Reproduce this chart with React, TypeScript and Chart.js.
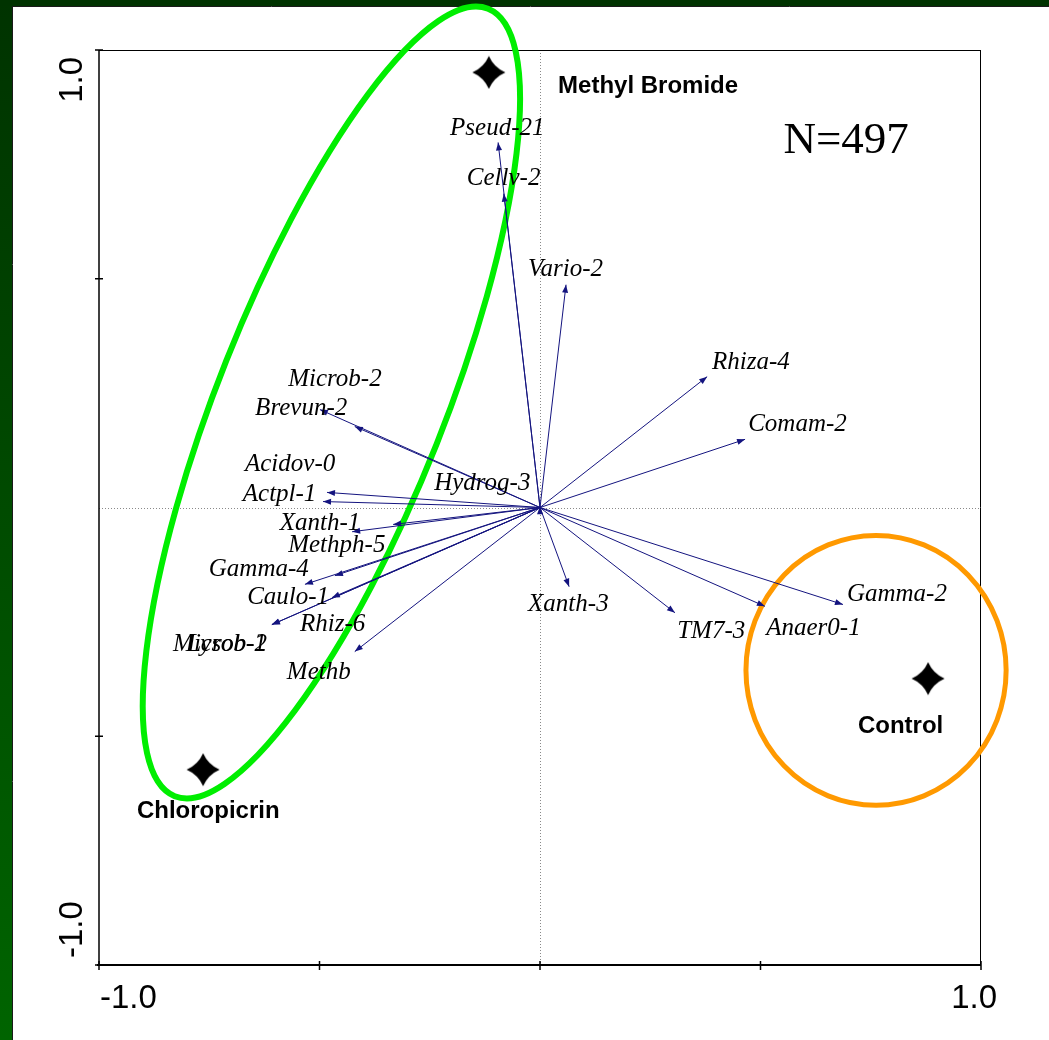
import React, { useEffect, useRef } from 'react';
import { Chart, registerables } from 'chart.js';

Chart.register(...registerables);

// ---- Species vectors (biplot arrows) ----
const speciesNames = [
  'Pseud-21', 'Cellv-2', 'Vario-2', 'Rhiza-4', 'Comam-2', 'Gamma-2', 'Anaer0-1', 'TM7-3',
  'Xanth-3', 'Brevun-2', 'Microb-2', 'Acidov-0', 'Actpl-1', 'Hydrog-3', 'Xanth-1', 'Methph-5',
  'Gamma-4', 'Caulo-1', 'Rhiz-6', 'Microb-1', 'Lysob-2', 'Methb',
];
const vectorX = [
  -0.095, -0.082, 0.059, 0.379, 0.465, 0.687, 0.510, 0.306,
  0.066, -0.499, -0.420, -0.483, -0.492, 0.0, -0.426, -0.333,
  -0.533, -0.465, -0.472, -0.608, -0.608, -0.420,
];
const vectorY = [
  0.798, 0.686, 0.487, 0.286, 0.149, -0.212, -0.216, -0.230,
  -0.173, 0.214, 0.177, 0.033, 0.013, 0.003, -0.053, -0.037,
  -0.168, -0.149, -0.197, -0.256, -0.256, -0.315,
];
// label anchors (left edge, vertical middle)
const labelX = [
  -0.204, -0.166, -0.027, 0.390, 0.472, 0.696, 0.513, 0.311,
  -0.027, -0.646, -0.571, -0.669, -0.674, -0.240, -0.590, -0.571,
  -0.751, -0.664, -0.544, -0.832, -0.800, -0.574,
];
const labelY = [
  0.833, 0.724, 0.525, 0.321, 0.186, -0.186, -0.260, -0.267,
  -0.208, 0.221, 0.284, 0.098, 0.033, 0.057, -0.031, -0.079,
  -0.131, -0.192, -0.251, -0.295, -0.295, -0.356,
];

// ---- Treatments (star markers) ----
const treatmentNames = ['Methyl Bromide', 'Chloropicrin', 'Control'];
const treatmentX = [-0.116, -0.764, 0.880];
const treatmentY = [0.951, -0.573, -0.374];
const treatmentLabelX = [0.041, -0.914, 0.721];
const treatmentLabelY = [0.925, -0.660, -0.474];

// ---- Axis ticks ----
const tickValues = [-1, -0.5, 0, 0.5, 1];
const tickLabelMin = '-1.0';
const tickLabelMax = '1.0';
const sampleSizeText = 'N=497';

// ---- Group outlines (data coordinates) ----
const greenCenter = [-0.473, 0.2295];
const greenSemiAxes = [0.2565, 0.9608]; // minor, major (in x-axis units)
const greenTiltDeg = 21.7;
const orangeCenter = [0.762, -0.356];
const orangeRadius = 0.295;

const NAVY = '#14147f';

function makeStar(): HTMLCanvasElement {
  const c = document.createElement('canvas');
  c.width = 34;
  c.height = 34;
  const g = c.getContext('2d')!;
  const m = 17;
  const R = 16.5;
  const k = 5;
  g.fillStyle = '#000';
  g.beginPath();
  g.moveTo(m, m - R);
  g.quadraticCurveTo(m + k, m - k, m + R, m);
  g.quadraticCurveTo(m + k, m + k, m, m + R);
  g.quadraticCurveTo(m - k, m + k, m - R, m);
  g.quadraticCurveTo(m - k, m - k, m, m - R);
  g.closePath();
  g.fill();
  return c;
}

const overlayPlugin = {
  id: 'biplotOverlay',
  beforeDraw(chart: any) {
    const { ctx, width, height } = chart;
    ctx.save();
    ctx.fillStyle = '#ffffff';
    ctx.fillRect(0, 0, width, height);
    const grad = ctx.createLinearGradient(0, 0, 0, height);
    grad.addColorStop(0, '#003300');
    grad.addColorStop(1, '#006400');
    ctx.fillStyle = grad;
    ctx.fillRect(0, 0, 12, height);
    ctx.fillStyle = '#003300';
    ctx.fillRect(0, 0, width, 6);
    ctx.strokeStyle = '#1a1a1a';
    ctx.lineWidth = 1;
    ctx.beginPath();
    ctx.moveTo(12.5, 6);
    ctx.lineTo(12.5, height);
    ctx.moveTo(12, 6.5);
    ctx.lineTo(width, 6.5);
    ctx.stroke();
    ctx.restore();
  },
  beforeDatasetsDraw(chart: any) {
    const { ctx } = chart;
    const xs = chart.scales.x;
    const ys = chart.scales.y;
    const area = chart.chartArea;
    ctx.save();
    // dotted zero lines
    ctx.strokeStyle = '#8a8a8a';
    ctx.lineWidth = 1;
    ctx.setLineDash([1, 2]);
    const x0 = Math.round(xs.getPixelForValue(0)) + 0.5;
    const y0 = Math.round(ys.getPixelForValue(0)) + 0.5;
    ctx.beginPath();
    ctx.moveTo(x0, area.top);
    ctx.lineTo(x0, area.bottom);
    ctx.moveTo(area.left, y0);
    ctx.lineTo(area.right, y0);
    ctx.stroke();
    ctx.setLineDash([]);

    // frame
    ctx.strokeStyle = '#000';
    ctx.lineWidth = 1;
    ctx.beginPath();
    ctx.moveTo(area.left, area.top + 0.5);
    ctx.lineTo(area.right, area.top + 0.5);
    ctx.moveTo(area.right - 0.5, area.top);
    ctx.lineTo(area.right - 0.5, area.bottom);
    ctx.stroke();
    ctx.lineWidth = 1.5;
    ctx.beginPath();
    ctx.moveTo(area.left, area.top);
    ctx.lineTo(area.left, area.bottom);
    ctx.stroke();
    ctx.lineWidth = 2;
    ctx.beginPath();
    ctx.moveTo(area.left - 2, area.bottom);
    ctx.lineTo(area.right, area.bottom);
    ctx.stroke();
    ctx.lineWidth = 1.5;
    ctx.beginPath();
    for (const v of tickValues) {
      if (v !== 0) {
        const py = ys.getPixelForValue(v);
        ctx.moveTo(area.left - 4, py);
        ctx.lineTo(area.left + 4, py);
      }
      const px = xs.getPixelForValue(v);
      ctx.moveTo(px, area.bottom - 4);
      ctx.lineTo(px, area.bottom + 5);
    }
    ctx.stroke();

    // group outlines
    const pxPerX = (xs.getPixelForValue(1) - xs.getPixelForValue(0));
    const pxPerY = (ys.getPixelForValue(0) - ys.getPixelForValue(1));
    ctx.lineWidth = 6;
    ctx.strokeStyle = '#00ee00';
    ctx.beginPath();
    ctx.ellipse(
      xs.getPixelForValue(greenCenter[0]),
      ys.getPixelForValue(greenCenter[1]),
      greenSemiAxes[0] * pxPerX,
      greenSemiAxes[1] * pxPerX,
      (greenTiltDeg * Math.PI) / 180,
      0,
      Math.PI * 2,
    );
    ctx.stroke();
    ctx.lineWidth = 5;
    ctx.strokeStyle = '#ff9900';
    ctx.beginPath();
    ctx.ellipse(
      xs.getPixelForValue(orangeCenter[0]),
      ys.getPixelForValue(orangeCenter[1]),
      orangeRadius * pxPerX,
      orangeRadius * pxPerY,
      0,
      0,
      Math.PI * 2,
    );
    ctx.stroke();
    ctx.restore();
  },
  afterDatasetsDraw(chart: any) {
    const { ctx } = chart;
    const xs = chart.scales.x;
    const ys = chart.scales.y;
    const area = chart.chartArea;
    ctx.save();
    // arrowheads
    ctx.fillStyle = NAVY;
    const ox = xs.getPixelForValue(0);
    const oy = ys.getPixelForValue(0);
    for (let i = 0; i < speciesNames.length; i++) {
      const tx = xs.getPixelForValue(vectorX[i]);
      const ty = ys.getPixelForValue(vectorY[i]);
      let dx = tx - ox;
      let dy = ty - oy;
      const len = Math.hypot(dx, dy) || 1;
      dx /= len;
      dy /= len;
      const L = 8;
      const W = 3;
      ctx.beginPath();
      ctx.moveTo(tx, ty);
      ctx.lineTo(tx - dx * L - dy * W, ty - dy * L + dx * W);
      ctx.lineTo(tx - dx * L + dy * W, ty - dy * L - dx * W);
      ctx.closePath();
      ctx.fill();
    }
    // species labels
    ctx.fillStyle = '#000';
    ctx.font = 'italic 25px "Liberation Serif", "Times New Roman", serif';
    ctx.textAlign = 'left';
    ctx.textBaseline = 'middle';
    for (let i = 0; i < speciesNames.length; i++) {
      ctx.fillText(speciesNames[i], xs.getPixelForValue(labelX[i]), ys.getPixelForValue(labelY[i]) + 2);
    }
    // treatment labels
    ctx.font = 'bold 24px "Liberation Sans", Arial, sans-serif';
    for (let i = 0; i < treatmentNames.length; i++) {
      ctx.fillText(
        treatmentNames[i],
        xs.getPixelForValue(treatmentLabelX[i]),
        ys.getPixelForValue(treatmentLabelY[i]) + 2,
      );
    }
    // N label
    ctx.font = '45px "Liberation Serif", "Times New Roman", serif';
    ctx.textBaseline = 'alphabetic';
    ctx.fillText(sampleSizeText, xs.getPixelForValue(0.552), ys.getPixelForValue(0.775));

    // tick labels
    ctx.font = '33px "Liberation Sans", Arial, sans-serif';
    ctx.textAlign = 'left';
    ctx.fillText(tickLabelMin, xs.getPixelForValue(-1) + 1, area.bottom + 43);
    ctx.textAlign = 'right';
    ctx.fillText(tickLabelMax, xs.getPixelForValue(1) + 16, area.bottom + 43);
    // rotated y labels
    ctx.save();
    ctx.translate(area.left - 17, ys.getPixelForValue(-1) - 7);
    ctx.rotate(-Math.PI / 2);
    ctx.textAlign = 'left';
    ctx.fillText(tickLabelMin, 0, 0);
    ctx.restore();
    ctx.save();
    ctx.translate(area.left - 17, ys.getPixelForValue(1) + 7);
    ctx.rotate(-Math.PI / 2);
    ctx.textAlign = 'right';
    ctx.fillText(tickLabelMax, 0, 0);
    ctx.restore();
    ctx.restore();
  },
};

export default function App() {
  const canvasRef = useRef<HTMLCanvasElement | null>(null);

  useEffect(() => {
    const canvas = canvasRef.current;
    if (!canvas) return;
    const star = makeStar();
    const datasets: any[] = [
      {
        label: 'Treatments',
        data: treatmentX.map((x, i) => ({ x, y: treatmentY[i] })),
        pointStyle: star,
        pointRadius: 17,
        showLine: false,
      },
    ];
    speciesNames.forEach((name, i) => {
      datasets.push({
        label: name,
        data: [
          { x: 0, y: 0 },
          { x: vectorX[i], y: vectorY[i] },
        ],
        showLine: true,
        borderColor: NAVY,
        borderWidth: 1,
        pointRadius: 0,
        fill: false,
      });
    });
    const chart = new Chart(canvas, {
      type: 'scatter',
      data: { datasets },
      options: {
        animation: false,
        responsive: false,
        events: [],
        layout: { padding: { left: 99, right: 68, top: 50, bottom: 75 } },
        scales: {
          x: { type: 'linear', min: -1, max: 1, display: false },
          y: { type: 'linear', min: -1, max: 1, display: false },
        },
        plugins: { legend: { display: false }, tooltip: { enabled: false } },
      },
      plugins: [overlayPlugin],
    });
    return () => chart.destroy();
  }, []);

  return (
    <div style={{ position: 'fixed', left: 0, top: 0, width: 1049, height: 1040, background: '#fff' }}>
      <canvas ref={canvasRef} width={1049} height={1040} style={{ display: 'block', width: 1049, height: 1040 }} />
    </div>
  );
}
